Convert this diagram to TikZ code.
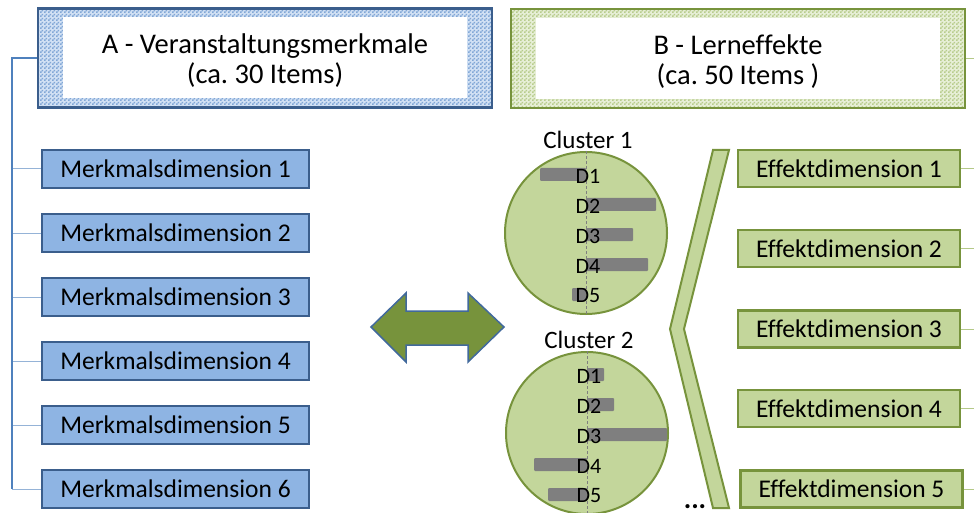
\documentclass[tikz,border=0pt]{standalone}
\usepackage{fontspec}
\setmainfont{Carlito}[Ligatures=CommonOff]
\usepackage{tikz}
\usepackage{xcolor}
\usetikzlibrary{patterns}
\frenchspacing

\definecolor{mfill}{HTML}{8EB4E3}
\definecolor{mdark}{HTML}{3B5E8C}
\definecolor{trunkblue}{HTML}{4F81BD}
\definecolor{twigblue}{HTML}{95B3D7}
\definecolor{gfill}{HTML}{C3D69B}
\definecolor{gdark}{HTML}{77933C}
\definecolor{bargray}{HTML}{7F7F7F}
\definecolor{arrowblue}{HTML}{41699C}

% fine checkerboard for the header frames
\pgfdeclarepatternformonly{checks}{\pgfpointorigin}{\pgfpoint{4pt}{4pt}}{\pgfpoint{4pt}{4pt}}{%
  \pgfpathrectangle{\pgfpointorigin}{\pgfpoint{2pt}{2pt}}%
  \pgfpathrectangle{\pgfpoint{2pt}{2pt}}{\pgfpoint{2pt}{2pt}}%
  \pgfusepath{fill}}

\tikzset{
  headframe/.style={line width=2.2pt, minimum width=454pt, minimum height=99pt, inner sep=0pt, pattern=checks},
  headin/.style={fill=white, minimum width=404pt, minimum height=81pt, inner sep=0pt},
  headtext/.style={align=center, font=\fontsize{28.5}{30}\selectfont},
  merkmal/.style={draw=mdark, fill=mfill, line width=2.2pt, minimum width=267pt, minimum height=38pt, inner sep=0pt, font=\fontsize{25.5}{28}\selectfont},
  effekt/.style={draw=gdark, fill=gfill, line width=2.2pt, minimum width=222pt, minimum height=37pt, inner sep=0pt, font=\fontsize{25.5}{28}\selectfont},
  twig/.style={draw=twigblue, line width=1pt},
  leaf/.style={draw=gfill!80!gdark, line width=1pt},
  disc/.style={circle, draw=gdark, fill=gfill, line width=2pt, minimum size=162pt, inner sep=0pt},
  axis/.style={draw=bargray, line width=0.8pt, dash pattern=on 3pt off 2pt},
  dlab/.style={inner sep=0pt, font=\fontsize{22}{24}\selectfont},
}

\begin{document}
\begin{tikzpicture}[x=1pt,y=-1pt]
\useasboundingbox (0,0) rectangle (974,513);
\coordinate (trunk) at (12,58);
\coordinate (rim) at (974,0);

% headers
\node[headframe, draw=mdark, preaction={fill=mfill!40}, pattern color=mfill!85!mdark] (hA) at (265,58) {};
\node[headin] (iA) at (hA.center) {};
\node[headtext] (tA) at (265,61) {A - Veranstaltungsmerkmale\\(ca. 30 Items)};
\node[headframe, draw=gdark, preaction={fill=gfill!40}, pattern color=gfill!85!gdark] (hB) at (738,58.5) {};
\node[headin] (iB) at (hB.center) {};
\node[headtext] (tB) at (738,61.5) {B - Lerneffekte\\(ca. 50 Items )};

% A side
\foreach \i/\y in {1/169,2/233,3/297,4/361,5/425,6/489} {
    \node[merkmal] (m\i) at (175.5,\y) {Merkmalsdimension \i};
    \draw[twig] (m\i.west) -- (m\i.west -| trunk);
}
\draw[trunkblue, line width=1.2pt] (hA.west) -- (trunk) -- (trunk |- m6.west);

% B side
\foreach \i/\x/\y in {1/849/168.5,2/849/248.5,3/849/329,4/849/408.5,5/851.5/489} {
    \node[effekt] (e\i) at (\x,\y) {Effektdimension \i};
    \draw[leaf] (e\i.east) -- (e\i.east -| rim);
}
\draw[leaf] (hB.east) -- (hB.east -| rim);

% double arrow
\filldraw[fill=gdark, draw=arrowblue, line width=1.5pt, line join=miter]
    (371,327) -- (406,293) -- (406,311) -- (468,311) -- (468,293) -- (504,327)
    -- (468,362) -- (468,345) -- (406,345) -- (406,362) -- cycle;

% clusters with dimension bars
\foreach \c/\cx/\cy/\bars in {1/586/233/{-46/0,0/70,0/47,0/62,-14/0},
                              2/587/433/{0/17,0/27,0/80,-53/0,-39/0}} {
    \node[disc] (k\c) at (\cx,\cy) {};
    \node[font=\fontsize{25}{28}\selectfont] (kl\c) at (\cx+2,\cy-93) {Cluster \c};
    \draw[axis] (k\c.north) -- (k\c.south);
    \foreach \a/\b [count=\d] in \bars {
        \pgfmathsetmacro\ry{\cy-57+30*(\d-1)}
        \fill[bargray, rounded corners=1pt] (\cx+\a,\ry-8) rectangle (\cx+\b,\ry+5);
        \node[dlab] (k\c d\d) at (\cx+2,\ry) {D\d};
    }
}

% bracket
\filldraw[fill=gfill, draw=gdark, line width=2pt]
    (713,150) -- (729,150) -- (684,329) -- (729,508) -- (713,508) -- (670,329) -- cycle;
\node[anchor=base, inner sep=0pt, font=\fontsize{28}{30}\selectfont\bfseries] (more) at (695,508) {...};
\end{tikzpicture}
\end{document}
